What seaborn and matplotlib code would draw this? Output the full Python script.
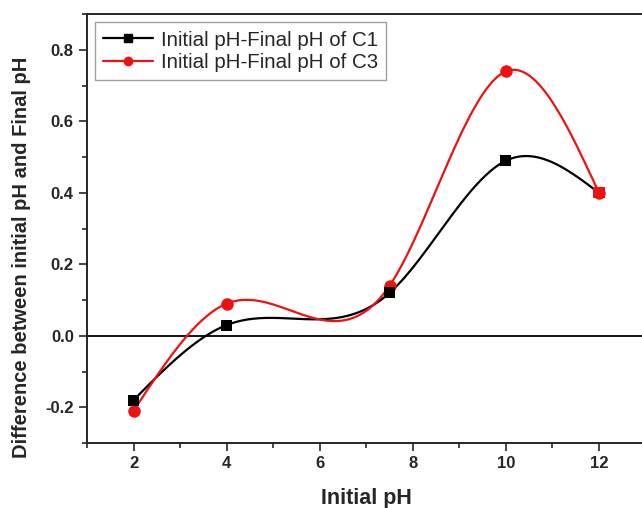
import numpy as np
import pandas as pd
import matplotlib
matplotlib.use("Agg")
import matplotlib.pyplot as plt
import seaborn as sns
from matplotlib.ticker import MultipleLocator

# data
ph_c1 = [2, 4, 7.5, 10, 12]
diff_c1 = [-0.18, 0.03, 0.12, 0.49, 0.40]
ph_c3 = [2, 4, 7.5, 10, 12]
diff_c3 = [-0.21, 0.09, 0.14, 0.74, 0.40]
labels = ["Initial pH-Final pH of C1", "Initial pH-Final pH of C3"]


def smooth_line(x, y, n=300):
    # natural cubic spline through the points, for the smooth connecting line
    x = np.asarray(x, float)
    y = np.asarray(y, float)
    k = len(x)
    h = np.diff(x)
    A = np.zeros((k, k))
    b = np.zeros(k)
    A[0, 0] = A[-1, -1] = 1
    for i in range(1, k - 1):
        A[i, i - 1] = h[i - 1]
        A[i, i] = 2 * (h[i - 1] + h[i])
        A[i, i + 1] = h[i]
        b[i] = 6 * ((y[i + 1] - y[i]) / h[i] - (y[i] - y[i - 1]) / h[i - 1])
    M = np.linalg.solve(A, b)
    xs = np.linspace(x[0], x[-1], n)
    idx = np.clip(np.searchsorted(x, xs) - 1, 0, k - 2)
    x0, x1 = x[idx], x[idx + 1]
    hh = x1 - x0
    ys = (M[idx] * (x1 - xs) ** 3 / (6 * hh) + M[idx + 1] * (xs - x0) ** 3 / (6 * hh)
          + (y[idx] / hh - M[idx] * hh / 6) * (x1 - xs)
          + (y[idx + 1] / hh - M[idx + 1] * hh / 6) * (xs - x0))
    return xs, ys


sns.set_style("ticks")
plt.rcParams['font.family'] = ['Liberation Sans', 'DejaVu Sans']
plt.rcParams['axes.unicode_minus'] = False

fig = plt.figure(figsize=(6.42, 5.08), dpi=100)
ax = fig.add_axes([0.1355, 0.128, 0.87, 0.844])

ax.axhline(0, color="black", lw=1.3, zorder=1)

red = "#ee1111"
for xv, yv, col, mk, lab in [(ph_c1, diff_c1, "black", "s", labels[0]),
                             (ph_c3, diff_c3, red, "o", labels[1])]:
    xs, ys = smooth_line(xv, yv)
    sns.lineplot(x=xs, y=ys, color=col, lw=1.6, ax=ax, zorder=2)
    ax.plot([], [], color=col, marker=mk, ms=6, lw=1.6, label=lab)

# C3 circles, then C1 squares (a shared point shows as a red square, as in the original)
c1_colors = [red if a == b else "black" for a, b in zip(diff_c1, diff_c3)]
sns.scatterplot(x=ph_c3, y=diff_c3, color=red, marker="o", s=81, linewidth=0,
                ax=ax, zorder=3)
sns.scatterplot(x=ph_c1, y=diff_c1, c=c1_colors, marker="s", s=64, linewidth=0,
                ax=ax, zorder=4)

ax.set_xlim(1, 13)
ax.set_ylim(-0.3, 0.9)
ax.xaxis.set_minor_locator(MultipleLocator(1))
ax.yaxis.set_minor_locator(MultipleLocator(0.1))
ax.set_xticks([2, 4, 6, 8, 10, 12])
ax.set_yticks([-0.2, 0.0, 0.2, 0.4, 0.6, 0.8])
ax.tick_params(which="major", direction="out", length=6, width=1.2, labelsize=12)
ax.tick_params(which="minor", direction="out", length=3.5, width=1.2)
for t in ax.get_xticklabels() + ax.get_yticklabels():
    t.set_fontweight("bold")

for s in ["left", "bottom", "top"]:
    ax.spines[s].set_linewidth(1.4)
ax.spines["right"].set_visible(False)

ax.set_xlabel("Initial pH", fontsize=15.5, fontweight="bold", labelpad=12)
ax.set_ylabel("Difference between initial pH and Final pH", fontsize=14.5,
              fontweight="bold")
ax.yaxis.set_label_coords(-0.10, 0.434)

leg = ax.legend(loc="upper left", fontsize=14.8, frameon=True, fancybox=False,
                edgecolor="#888888", borderpad=0.4, handlelength=2.4,
                handletextpad=0.4, labelspacing=0.15, borderaxespad=0.4)
leg.get_frame().set_linewidth(1.0)

fig.savefig("out.png", dpi=100)
